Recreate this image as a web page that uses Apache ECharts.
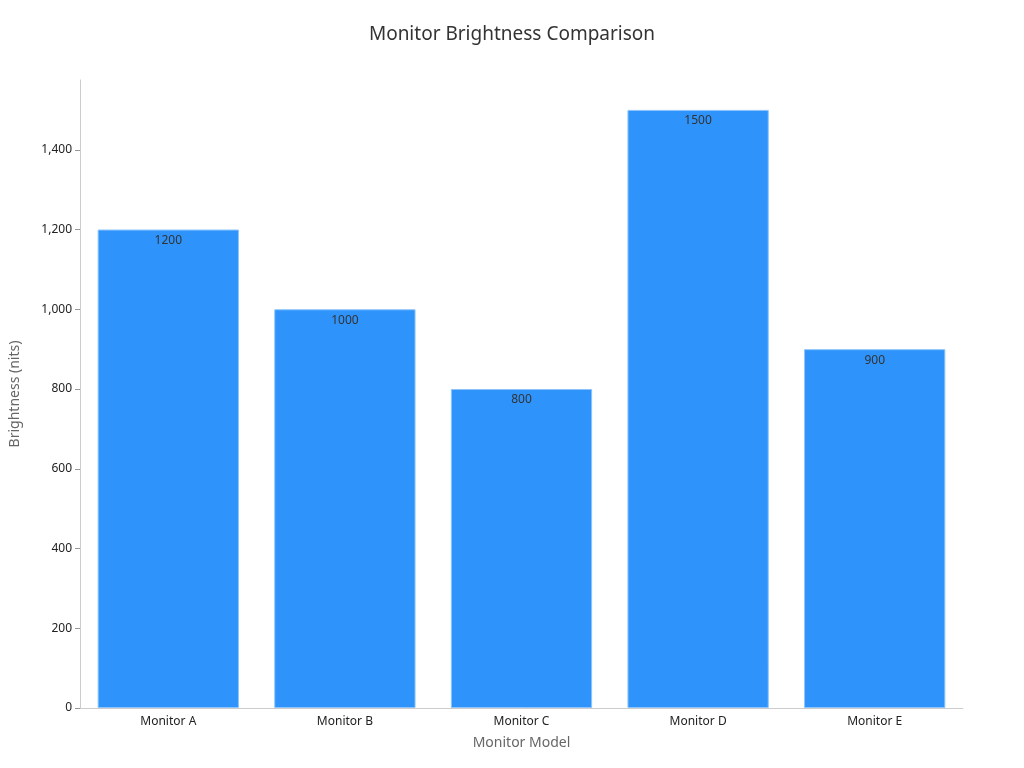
<!DOCTYPE html>
<html>
<head>
<meta charset="utf-8">
<script src="https://cdn.jsdelivr.net/npm/echarts@6/dist/echarts.min.js"></script>
<style>html,body{margin:0;padding:0;background:#fff}#chart{width:1024px;height:768px}</style>
</head>
<body>
<div id="chart"></div>
<script>
var categories = ['Monitor A', 'Monitor B', 'Monitor C', 'Monitor D', 'Monitor E'];
var brightness = [1200, 1000, 800, 1500, 900];

var myChart = echarts.init(document.getElementById('chart'));
var font = '"Noto Sans", sans-serif';
var option = {
    backgroundColor: '#fff',
    textStyle: {fontFamily: font},
    title: {
        text: 'Monitor Brightness Comparison',
        left: 'center', top: 20,
        textStyle: {fontSize: 19, fontWeight: 'normal', color: '#333', fontFamily: font}
    },
    grid: {left: 76, right: 61, top: 80, bottom: 60, containLabel: false},
    xAxis: {
        type: 'category',
        data: categories,
        name: 'Monitor Model',
        nameLocation: 'middle',
        nameGap: 28,
        nameTextStyle: {fontSize: 14, color: '#666'},
        axisLine: {lineStyle: {color: '#ccc'}},
        axisTick: {show: false},
        axisLabel: {color: '#222', fontSize: 12}
    },
    yAxis: {
        type: 'value',
        min: 0, max: 1575, interval: 200,
        name: 'Brightness (nits)',
        nameLocation: 'middle',
        nameGap: 58,
        nameTextStyle: {fontSize: 14, color: '#666'},
        axisLine: {show: true, lineStyle: {color: '#ccc'}},
        axisTick: {show: true, lineStyle: {color: '#999'}},
        axisLabel: {color: '#222', fontSize: 12, showMaxLabel: false},
        splitLine: {show: false}
    },
    series: [{
        type: 'bar',
        data: brightness,
        barCategoryGap: '20%',
        itemStyle: {color: '#2e93fa', borderColor: '#8cc4fb', borderWidth: 1},
        label: {show: true, position: 'insideTop', color: '#333', fontSize: 12, offset: [0, 0]},
        animation: false
    }]
};
myChart.setOption(option);
</script>
</body>
</html>
